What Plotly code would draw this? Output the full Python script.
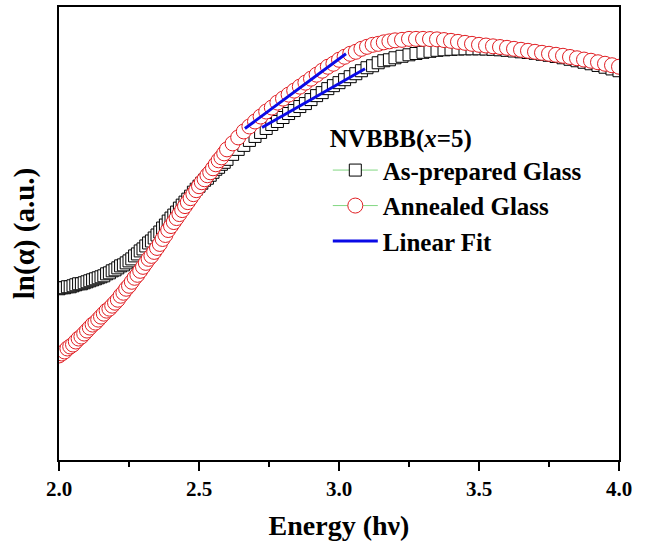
import plotly.graph_objects as go

# Photon energy (eV)
energy = [
    2.00, 2.01, 2.02, 2.03, 2.04, 2.05, 2.06, 2.07, 2.08, 2.09,
    2.10, 2.11, 2.12, 2.13, 2.14, 2.15, 2.16, 2.17, 2.18, 2.19,
    2.20, 2.21, 2.22, 2.23, 2.24, 2.25, 2.26, 2.27, 2.28, 2.29,
    2.30, 2.31, 2.32, 2.33, 2.34, 2.35, 2.36, 2.37, 2.38, 2.39,
    2.40, 2.41, 2.42, 2.43, 2.44, 2.45, 2.46, 2.47, 2.48, 2.49,
    2.50, 2.51, 2.52, 2.53, 2.54, 2.55, 2.56, 2.57, 2.58, 2.59,
    2.60, 2.62, 2.64, 2.66, 2.68, 2.70, 2.72, 2.74, 2.76, 2.78,
    2.80, 2.82, 2.84, 2.86, 2.88, 2.90, 2.92, 2.94, 2.96, 2.98,
    3.00, 3.02, 3.04, 3.06, 3.08, 3.10, 3.12, 3.14, 3.16, 3.18,
    3.20, 3.225, 3.25, 3.275, 3.30, 3.325, 3.35, 3.375, 3.40, 3.425,
    3.45, 3.475, 3.50, 3.525, 3.55, 3.575, 3.60, 3.625, 3.65, 3.675,
    3.70, 3.725, 3.75, 3.775, 3.80, 3.825, 3.85, 3.875, 3.90, 3.925,
    3.95, 3.975, 4.00,
]

# ln(alpha), arbitrary units - as-prepared glass
ln_alpha_asprep = [
    1.72, 1.73, 1.73, 1.74, 1.74, 1.75, 1.76, 1.77, 1.77, 1.78,
    1.79, 1.80, 1.81, 1.82, 1.83, 1.84, 1.85, 1.87, 1.88, 1.90,
    1.91, 1.93, 1.95, 1.96, 1.98, 2.00, 2.02, 2.05, 2.07, 2.10,
    2.12, 2.15, 2.18, 2.20, 2.23, 2.26, 2.29, 2.33, 2.36, 2.40,
    2.43, 2.46, 2.49, 2.53, 2.56, 2.59, 2.62, 2.65, 2.69, 2.72,
    2.75, 2.78, 2.81, 2.83, 2.86, 2.89, 2.92, 2.94, 2.97, 2.99,
    3.02, 3.07, 3.12, 3.16, 3.21, 3.25, 3.29, 3.33, 3.37, 3.40,
    3.44, 3.48, 3.51, 3.55, 3.58, 3.62, 3.66, 3.69, 3.73, 3.76,
    3.79, 3.82, 3.85, 3.88, 3.91, 3.94, 3.96, 3.99, 4.01, 4.02,
    4.04, 4.055, 4.07, 4.083, 4.095, 4.105, 4.115, 4.12, 4.125, 4.128,
    4.13, 4.13, 4.13, 4.128, 4.125, 4.12, 4.115, 4.108, 4.10, 4.093,
    4.085, 4.075, 4.065, 4.053, 4.04, 4.025, 4.01, 3.995, 3.98, 3.963,
    3.945, 3.928, 3.91,
]

# ln(alpha), arbitrary units - annealed glass
ln_alpha_annealed = [
    1.05, 1.07, 1.09, 1.12, 1.14, 1.16, 1.19, 1.22, 1.24, 1.27,
    1.30, 1.33, 1.36, 1.38, 1.41, 1.44, 1.47, 1.50, 1.52, 1.55,
    1.58, 1.61, 1.65, 1.68, 1.72, 1.75, 1.79, 1.83, 1.86, 1.90,
    1.94, 1.98, 2.02, 2.05, 2.09, 2.13, 2.17, 2.22, 2.26, 2.31,
    2.35, 2.39, 2.43, 2.47, 2.51, 2.55, 2.59, 2.63, 2.67, 2.71,
    2.75, 2.79, 2.82, 2.86, 2.89, 2.93, 2.97, 3.01, 3.04, 3.08,
    3.12, 3.18, 3.24, 3.30, 3.35, 3.40, 3.45, 3.50, 3.54, 3.59,
    3.63, 3.67, 3.71, 3.75, 3.79, 3.83, 3.87, 3.91, 3.95, 3.98,
    4.02, 4.05, 4.08, 4.10, 4.13, 4.15, 4.17, 4.18, 4.195, 4.205,
    4.215, 4.22, 4.23, 4.23, 4.23, 4.228, 4.225, 4.218, 4.21, 4.20,
    4.19, 4.18, 4.17, 4.163, 4.155, 4.148, 4.14, 4.13, 4.12, 4.11,
    4.10, 4.09, 4.08, 4.07, 4.06, 4.048, 4.035, 4.022, 4.01, 3.995,
    3.98, 3.965, 3.95,
]

# Linear fit segments (start/end)
fit_annealed_x = [2.664, 3.025]
fit_annealed_y = [3.33, 4.08]
fit_asprep_x = [2.725, 3.093]
fit_asprep_y = [3.34, 3.93]

xtick_vals = [2.0, 2.5, 3.0, 3.5, 4.0]
xtick_text = ["2.0", "2.5", "3.0", "3.5", "4.0"]

FONT = "Liberation Serif"

fig = go.Figure()
fig.add_trace(go.Scatter(
    x=energy, y=ln_alpha_asprep, mode="lines+markers",
    name="As-prepared Glass",
    line=dict(color="rgb(130,215,130)", width=1),
    marker=dict(symbol="square", size=12, color="white",
                line=dict(color="black", width=1)),
))
fig.add_trace(go.Scatter(
    x=energy, y=ln_alpha_annealed, mode="lines+markers",
    name="Annealed Glass",
    line=dict(color="rgb(130,215,130)", width=1),
    marker=dict(symbol="circle", size=15, color="white",
                line=dict(color="rgb(225,30,35)", width=1)),
))
fig.add_trace(go.Scatter(
    x=fit_annealed_x + [None] + fit_asprep_x,
    y=fit_annealed_y + [None] + fit_asprep_y,
    mode="lines", name="Linear Fit",
    line=dict(color="rgb(10,10,230)", width=3),
))

fig.update_layout(
    width=649, height=548,
    margin=dict(l=59, r=30, t=5, b=88),
    paper_bgcolor="white", plot_bgcolor="white",
    font=dict(family=FONT, color="black", size=25, weight="bold"),
    showlegend=True,
    legend=dict(
        x=0.48, y=0.762, xanchor="left", yanchor="top",
        bgcolor="rgba(0,0,0,0)",
        font=dict(family=FONT, size=25, weight="bold", color="black"),
        title=dict(text="NVBBB(<i>x</i>=5)",
                   font=dict(family=FONT, size=25, weight="bold", color="black")),
        itemwidth=45,
        tracegroupgap=0,
    ),
    xaxis=dict(
        range=[2.0, 4.0],
        tickmode="array", tickvals=xtick_vals, ticktext=xtick_text,
        ticks="outside", ticklen=9, tickwidth=2, tickcolor="black",
        minor=dict(ticks="outside", ticklen=5, tickwidth=2, tickcolor="black",
                   dtick=0.25, tick0=2.0),
        showline=True, linecolor="black", linewidth=2, mirror=True,
        showgrid=False, zeroline=False,
        tickfont=dict(family=FONT, size=21, weight="bold"),
        title=dict(text="Energy (hν)", standoff=15,
                   font=dict(family=FONT, size=28, weight="bold")),
    ),
    yaxis=dict(
        range=[0, 4.55],
        showticklabels=False, ticks="",
        showline=True, linecolor="black", linewidth=2, mirror=True,
        showgrid=False, zeroline=False,
        title=dict(text="ln(α) (a.u.)", standoff=14,
                   font=dict(family=FONT, size=29, weight="bold")),
    ),
)

fig.write_html("out.html")
